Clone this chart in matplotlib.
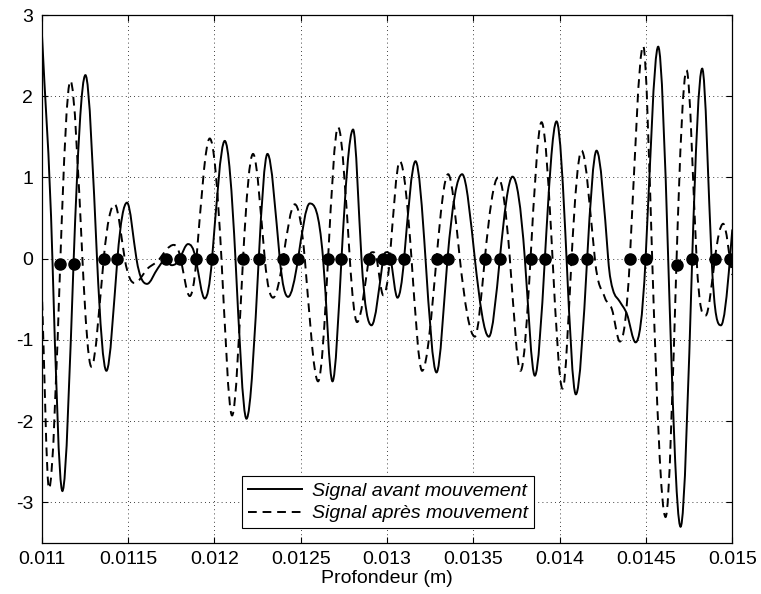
import matplotlib
matplotlib.use('Agg')
import numpy as np
import matplotlib.pyplot as plt
from matplotlib.path import Path
from matplotlib.patches import PathPatch
from matplotlib.lines import Line2D

plt.rcParams['font.family'] = ['Liberation Sans', 'DejaVu Sans']
plt.rcParams['font.size'] = 14

# key points (extrema and zero crossings)
avant_x = [0.0110000, 0.0110620, 0.0111199, 0.0111854, 0.0112532, 0.0113204, 0.0113749,
           0.0114386, 0.0114942, 0.0115487, 0.0116101, 0.0116721, 0.0117126, 0.0117532,
           0.0117995, 0.0118476, 0.0118922, 0.0119444, 0.0119867, 0.0120603, 0.0121222,
           0.0121860, 0.0122572, 0.0123077, 0.0123789, 0.0124270, 0.0124849, 0.0125527,
           0.0126298, 0.0126843, 0.0127364, 0.0128036, 0.0128522, 0.0129102, 0.0129774,
           0.0129988, 0.0130220, 0.0130608, 0.0130991, 0.0131651, 0.0132230, 0.0132868,
           0.0133505, 0.0134351, 0.0135087, 0.0135898, 0.0136535, 0.0137271, 0.0137984,
           0.0138563, 0.0139143, 0.0139820, 0.0140400, 0.0140939, 0.0141593, 0.0142138,
           0.0142810, 0.0143082, 0.0143488, 0.0143893, 0.0144397, 0.0144977, 0.0145707,
           0.0146286, 0.0147004, 0.0147677, 0.0148256, 0.0148800, 0.0149340, 0.0149861,
           0.0150000]
avant_y = [2.82, 0.0, -2.86, 0.0, 2.26, 0.0, -1.38,
           0.0, 0.69, 0.0, -0.31, -0.12, -0.02, -0.08,
           0.0, 0.18, 0.0, -0.49, 0.0, 1.45, 0.0,
           -1.97, 0.0, 1.29, 0.0, -0.47, 0.0, 0.68,
           0.0, -1.51, 0.0, 1.59, 0.0, -0.82, 0.0,
           0.08, 0.0, -0.48, 0.0, 1.20, 0.0, -1.40,
           0.0, 1.04, 0.0, -0.96, 0.0, 1.01, 0.0,
           -1.44, 0.0, 1.69, 0.0, -1.67, 0.0, 1.33,
           0.0, -0.38, -0.53, -0.68, -1.03, 0.0, 2.61,
           0.0, -3.30, 0.0, 2.34, 0.0, -0.82, 0.0,
           0.36]

apres_x = [0.0110000, 0.0110423, 0.0111083, 0.0111663, 0.0112358, 0.0112879, 0.0113592,
           0.0114229, 0.0114809, 0.0115388, 0.0116141, 0.0116837, 0.0117648, 0.0118053,
           0.0118575, 0.0118963, 0.0119733, 0.0120411, 0.0121026, 0.0121663, 0.0122242,
           0.0122920, 0.0123401, 0.0123980, 0.0124658, 0.0125238, 0.0126008, 0.0126587,
           0.0127167, 0.0127845, 0.0128268, 0.0128946, 0.0129177, 0.0129409, 0.0129786,
           0.0130162, 0.0130741, 0.0131419, 0.0132034, 0.0132868, 0.0133540, 0.0134218,
           0.0135087, 0.0135666, 0.0136437, 0.0137115, 0.0137735, 0.0138314, 0.0138951,
           0.0139589, 0.0140168, 0.0140689, 0.0141269, 0.0142039, 0.0142619, 0.0143024,
           0.0143488, 0.0144067, 0.0144838, 0.0145359, 0.0146135, 0.0146773, 0.0147352,
           0.0147931, 0.0148453, 0.0148992, 0.0149473, 0.0150000]
apres_y = [-0.35, -2.83, 0.0, 2.19, 0.0, -1.33, 0.0,
           0.67, 0.0, -0.30, -0.12, 0.0, 0.17, 0.0,
           -0.46, 0.0, 1.48, 0.0, -1.93, 0.0, 1.29,
           0.0, -0.48, 0.0, 0.67, 0.0, -1.51, 0.0,
           1.62, 0.0, -0.78, 0.0, 0.08, 0.0, -0.45,
           0.0, 1.20, 0.0, -1.38, 0.0, 1.04, 0.0,
           -0.96, 0.0, 1.00, 0.0, -1.38, 0.0, 1.68,
           0.0, -1.60, 0.0, 1.33, 0.0, -0.48, -0.62,
           -1.02, 0.0, 2.62, 0.0, -3.18, 0.0, 2.32,
           0.0, -0.70, 0.0, 0.43, -0.20]

# sample markers at the rising zero crossings
points_x = [0.0111083, 0.0111854, 0.0113592, 0.0114386, 0.0117225, 0.0117995, 0.0118963,
            0.0119867, 0.0121663, 0.0122572, 0.0123980, 0.0124849, 0.0126587, 0.0127364,
            0.0128946, 0.0129774, 0.0130162, 0.0130991, 0.0132868, 0.0133505, 0.0135666,
            0.0136535, 0.0138314, 0.0139143, 0.0140689, 0.0141593, 0.0144067, 0.0144977,
            0.0146773, 0.0147677, 0.0148992, 0.0149861]
points_y = [-0.07, -0.07, 0.0, 0.0, 0.0, 0.0, 0.0,
            0.0, 0.0, 0.0, 0.0, 0.0, 0.0, 0.0,
            0.0, 0.0, 0.0, 0.0, 0.0, 0.0, 0.0,
            0.0, 0.0, 0.0, 0.0, 0.0, 0.0, 0.0,
            -0.08, 0.0, 0.0, 0.0]

xtick_vals = [0.011, 0.0115, 0.012, 0.0125, 0.013, 0.0135, 0.014, 0.0145, 0.015]
xtick_labels = ['0.011', '0.0115', '0.012', '0.0125', '0.013', '0.0135', '0.014', '0.0145', '0.015']
ytick_vals = [-3, -2, -1, 0, 1, 2, 3]
ytick_labels = ['-3', '-2', '-1', '0', '1', '2', '3']


def smooth_path(xs, ys):
    # cubic Hermite curve through the read points, drawn as bezier segments
    x = np.asarray(xs, float)
    y = np.asarray(ys, float)
    n = len(x)
    m = np.zeros(n)
    for i in range(n):
        if i == 0:
            m[i] = (y[1] - y[0]) / (x[1] - x[0])
        elif i == n - 1:
            m[i] = (y[-1] - y[-2]) / (x[-1] - x[-2])
        elif (y[i] - y[i-1]) * (y[i+1] - y[i]) <= 0:
            m[i] = 0.0
        else:
            m[i] = (y[i+1] - y[i-1]) / (x[i+1] - x[i-1])
            if abs(y[i]) < 0.05:
                m[i] *= 1.5
    verts = [(x[0], y[0])]
    codes = [Path.MOVETO]
    for i in range(n - 1):
        h = x[i+1] - x[i]
        lo, hi = min(y[i], y[i+1]), max(y[i], y[i+1])
        c1 = np.clip(y[i] + m[i] * h / 3, lo, hi)
        c2 = np.clip(y[i+1] - m[i+1] * h / 3, lo, hi)
        verts += [(x[i] + h / 3, c1), (x[i+1] - h / 3, c2), (x[i+1], y[i+1])]
        codes += [Path.CURVE4] * 3
    return Path(verts, codes)


dash = (0, (4.5, 3))

fig = plt.figure(figsize=(7.61, 5.94), dpi=100)
ax = fig.add_axes([0.0548, 0.0859, 0.9075, 0.8888])

ax.add_patch(PathPatch(smooth_path(avant_x, avant_y), fill=False, edgecolor='k', linewidth=1.4))
ax.add_patch(PathPatch(smooth_path(apres_x, apres_y), fill=False, edgecolor='k', linewidth=1.4,
                       linestyle=dash))
ax.plot(points_x, points_y, 'o', color='k', markersize=8, zorder=5)

ax.set_xlim(0.011, 0.015)
ax.set_ylim(-3.5, 3)
ax.set_xticks(xtick_vals)
ax.set_xticklabels(xtick_labels)
ax.set_yticks(ytick_vals)
ax.set_yticklabels(ytick_labels)
ax.set_xlabel('Profondeur (m)', labelpad=1)
ax.grid(True, color='k', linestyle=(0, (1, 4)), linewidth=0.6)
ax.tick_params(direction='in', top=True, right=True, length=4, pad=6)
for s in ax.spines.values():
    s.set_linewidth(0.9)

handles = [Line2D([], [], color='k', lw=1.4, label='Signal avant mouvement'),
           Line2D([], [], color='k', lw=1.4, linestyle=dash, label='Signal après mouvement')]
leg = ax.legend(handles=handles, loc='lower left', bbox_to_anchor=(0.29, 0.028),
                prop={'style': 'italic', 'size': 14}, fancybox=False, edgecolor='k',
                framealpha=1, handlelength=2.8, handletextpad=0.5, borderpad=0.3,
                labelspacing=0.25, borderaxespad=0)
leg.get_frame().set_linewidth(0.8)

fig.savefig('out.png', dpi=100)
